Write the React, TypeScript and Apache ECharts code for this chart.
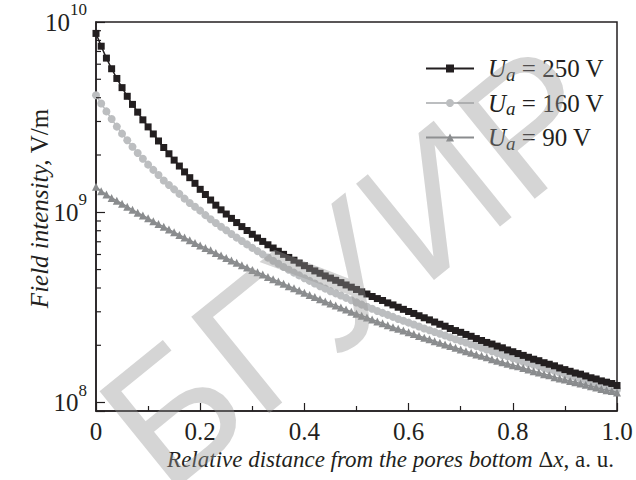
import React, { useEffect, useRef } from "react";
import * as echarts from "echarts";

// Relative distance Δx (a.u.) at which each marker is drawn
const X_POS = [
  0, 0.01, 0.02, 0.03, 0.04, 0.05, 0.06, 0.07, 0.08, 0.09,
  0.1, 0.11, 0.12, 0.13, 0.14, 0.15, 0.16, 0.17, 0.18, 0.19,
  0.2, 0.21, 0.22, 0.23, 0.24, 0.25, 0.26, 0.27, 0.28, 0.29,
  0.3, 0.31, 0.32, 0.33, 0.34, 0.35, 0.36, 0.37, 0.38, 0.39,
  0.4, 0.41, 0.42, 0.43, 0.44, 0.45, 0.46, 0.47, 0.48, 0.49,
  0.5, 0.51, 0.52, 0.53, 0.54, 0.55, 0.56, 0.57, 0.58, 0.59,
  0.6, 0.61, 0.62, 0.63, 0.64, 0.65, 0.66, 0.67, 0.68, 0.69,
  0.7, 0.71, 0.72, 0.73, 0.74, 0.75, 0.76, 0.77, 0.78, 0.79,
  0.8, 0.81, 0.82, 0.83, 0.84, 0.85, 0.86, 0.87, 0.88, 0.89,
  0.9, 0.91, 0.92, 0.93, 0.94, 0.95, 0.96, 0.97, 0.98, 0.99,
  1.0,
];

// Field intensity, V/m
const FIELD_250V = [
  8.71e9, 7.46e9, 6.46e9, 5.68e9, 5.05e9, 4.52e9, 4.07e9, 3.69e9, 3.36e9, 3.06e9,
  2.81e9, 2.58e9, 2.37e9, 2.19e9, 2.03e9, 1.88e9, 1.75e9, 1.63e9, 1.52e9, 1.42e9,
  1.32e9, 1.24e9, 1.16e9, 1.09e9, 1.03e9, 9.79e8, 9.29e8, 8.83e8, 8.41e8, 8.02e8,
  7.66e8, 7.33e8, 7.03e8, 6.75e8, 6.49e8, 6.24e8, 6.01e8, 5.79e8, 5.6e8, 5.41e8,
  5.24e8, 5.07e8, 4.92e8, 4.78e8, 4.63e8, 4.51e8, 4.39e8, 4.27e8, 4.15e8, 4.04e8,
  3.93e8, 3.82e8, 3.72e8, 3.61e8, 3.52e8, 3.44e8, 3.34e8, 3.26e8, 3.17e8, 3.09e8,
  3.01e8, 2.94e8, 2.86e8, 2.79e8, 2.72e8, 2.65e8, 2.58e8, 2.52e8, 2.45e8, 2.39e8,
  2.34e8, 2.28e8, 2.23e8, 2.17e8, 2.12e8, 2.07e8, 2.03e8, 1.98e8, 1.94e8, 1.89e8,
  1.85e8, 1.81e8, 1.77e8, 1.73e8, 1.69e8, 1.66e8, 1.62e8, 1.59e8, 1.56e8, 1.52e8,
  1.49e8, 1.46e8, 1.43e8, 1.41e8, 1.38e8, 1.35e8, 1.33e8, 1.3e8, 1.28e8, 1.26e8,
  1.23e8,
];

const FIELD_160V = [
  4.12e9, 3.73e9, 3.39e9, 3.09e9, 2.82e9, 2.59e9, 2.39e9, 2.21e9, 2.05e9, 1.91e9,
  1.78e9, 1.67e9, 1.57e9, 1.47e9, 1.39e9, 1.32e9, 1.25e9, 1.18e9, 1.12e9, 1.07e9,
  1.02e9, 9.66e8, 9.2e8, 8.79e8, 8.4e8, 8.04e8, 7.69e8, 7.36e8, 7.06e8, 6.78e8,
  6.5e8, 6.25e8, 6.01e8, 5.78e8, 5.56e8, 5.36e8, 5.16e8, 4.99e8, 4.82e8, 4.66e8,
  4.5e8, 4.36e8, 4.22e8, 4.09e8, 3.97e8, 3.85e8, 3.75e8, 3.65e8, 3.55e8, 3.45e8,
  3.36e8, 3.27e8, 3.19e8, 3.11e8, 3.03e8, 2.96e8, 2.89e8, 2.82e8, 2.75e8, 2.69e8,
  2.63e8, 2.57e8, 2.51e8, 2.45e8, 2.4e8, 2.35e8, 2.3e8, 2.25e8, 2.2e8, 2.15e8,
  2.11e8, 2.07e8, 2.02e8, 1.98e8, 1.94e8, 1.9e8, 1.86e8, 1.82e8, 1.78e8, 1.75e8,
  1.71e8, 1.68e8, 1.64e8, 1.61e8, 1.58e8, 1.55e8, 1.52e8, 1.49e8, 1.47e8, 1.44e8,
  1.41e8, 1.38e8, 1.36e8, 1.33e8, 1.31e8, 1.29e8, 1.26e8, 1.24e8, 1.22e8, 1.2e8,
  1.17e8,
];

const FIELD_90V = [
  1.36e9, 1.29e9, 1.24e9, 1.19e9, 1.15e9, 1.11e9, 1.07e9, 1.03e9, 9.95e8, 9.62e8,
  9.29e8, 8.97e8, 8.67e8, 8.4e8, 8.11e8, 7.85e8, 7.6e8, 7.36e8, 7.13e8, 6.9e8,
  6.7e8, 6.5e8, 6.31e8, 6.11e8, 5.93e8, 5.75e8, 5.58e8, 5.43e8, 5.27e8, 5.13e8,
  4.98e8, 4.84e8, 4.71e8, 4.57e8, 4.45e8, 4.33e8, 4.21e8, 4.09e8, 3.99e8, 3.88e8,
  3.78e8, 3.68e8, 3.59e8, 3.49e8, 3.4e8, 3.32e8, 3.24e8, 3.16e8, 3.08e8, 3.0e8,
  2.93e8, 2.86e8, 2.8e8, 2.73e8, 2.67e8, 2.61e8, 2.55e8, 2.49e8, 2.44e8, 2.39e8,
  2.34e8, 2.29e8, 2.24e8, 2.19e8, 2.15e8, 2.1e8, 2.06e8, 2.02e8, 1.98e8, 1.94e8,
  1.9e8, 1.86e8, 1.83e8, 1.79e8, 1.76e8, 1.73e8, 1.69e8, 1.66e8, 1.63e8, 1.6e8,
  1.57e8, 1.55e8, 1.52e8, 1.49e8, 1.46e8, 1.44e8, 1.41e8, 1.39e8, 1.36e8, 1.34e8,
  1.32e8, 1.3e8, 1.28e8, 1.26e8, 1.24e8, 1.22e8, 1.2e8, 1.18e8, 1.16e8, 1.15e8,
  1.13e8,
];

const SERIES_NAMES = ["Ua = 250 V", "Ua = 160 V", "Ua = 90 V"];
const LEGEND_VALUES = ["250 V", "160 V", "90 V"];
const X_TICK_LABELS = ["0", "0.2", "0.4", "0.6", "0.8", "1.0"];
const Y_MINOR_TICKS = [
  2e8, 3e8, 4e8, 5e8, 6e8, 7e8, 8e8, 9e8,
  2e9, 3e9, 4e9, 5e9, 6e9, 7e9, 8e9, 9e9,
];
const WATERMARK = "БГУИР";

const FONT = "Liberation Serif";
const INK = "#231f20";
const LIGHT = "#bcbec0";
const MID = "#8a8c8e";

export default function App() {
  const ref = useRef<HTMLDivElement>(null);

  useEffect(() => {
    if (!ref.current) return;
    const chart = echarts.init(ref.current, undefined, { renderer: "svg" });

    const toPairs = (ys: number[]) => X_POS.map((x, i) => [x, ys[i]]);

    const option: any = {
      animation: false,
      backgroundColor: "#ffffff",
      textStyle: { fontFamily: FONT },
      grid: {
        left: 96,
        top: 22,
        width: 521,
        height: 389,
        show: true,
        borderColor: INK,
        borderWidth: 1.5,
        backgroundColor: "transparent",
        outerBoundsMode: "none",
        containLabel: false,
      },
      legend: {
        show: true,
        orient: "vertical",
        left: 420,
        top: 51,
        itemWidth: 48,
        itemHeight: 10,
        itemGap: 7,
        selectedMode: false,
        data: SERIES_NAMES,
        formatter: (name: string) => {
          const i = SERIES_NAMES.indexOf(name);
          return `{u|U}{a|a}{t| = ${LEGEND_VALUES[i]}}`;
        },
        textStyle: {
          color: INK,
          fontFamily: FONT,
          fontSize: 25,
          padding: [0, 0, 0, 9],
          rich: {
            u: { fontFamily: FONT, fontStyle: "italic", fontSize: 25, lineHeight: 30, color: INK },
            a: { fontFamily: FONT, fontStyle: "italic", fontSize: 19, lineHeight: 12, verticalAlign: "bottom", color: INK },
            t: { fontFamily: FONT, fontSize: 25, lineHeight: 30, color: INK },
          },
        },
      },
      xAxis: {
        type: "value",
        min: 0,
        max: 1,
        interval: 0.2,
        axisLine: { show: true, onZero: false, lineStyle: { color: INK, width: 1.5 } },
        axisTick: { show: true, inside: true, length: 8, lineStyle: { color: INK, width: 1.2 } },
        minorTick: { show: true, splitNumber: 2, length: 5, lineStyle: { color: INK, width: 1.2 } },
        splitLine: { show: false },
        minorSplitLine: { show: false },
        axisLabel: {
          color: INK,
          fontFamily: FONT,
          fontSize: 25,
          margin: 8,
          formatter: (v: number) => X_TICK_LABELS[Math.round(v / 0.2)] ?? "",
        },
        name: "{i|Relative distance from the pores bottom }{r|Δ}{i|x}{r|, a. u.}",
        nameLocation: "middle",
        nameGap: 37,
        nameMoveOverlap: false,
        nameTextStyle: {
          color: INK,
          fontFamily: FONT,
          fontSize: 23,
          padding: [0, 0, 0, 68],
          rich: {
            i: { fontFamily: FONT, fontStyle: "italic", fontSize: 23, color: INK },
            r: { fontFamily: FONT, fontSize: 23, color: INK },
          },
        },
      },
      yAxis: {
        type: "log",
        logBase: 10,
        min: 9.03e7,
        max: 1e10,
        axisLine: { show: true, lineStyle: { color: INK, width: 1.5 } },
        axisTick: { show: true, inside: true, length: 9, lineStyle: { color: INK, width: 1.2 } },
        splitLine: { show: false },
        minorTick: { show: false },
        axisLabel: {
          color: INK,
          fontFamily: FONT,
          fontSize: 25,
          margin: 9,
          formatter: (v: number) => {
            const e = Math.log10(v);
            const r = Math.round(e);
            if (Math.abs(e - r) > 1e-6) return "";
            return `{b|10}{s|${r}}`;
          },
          rich: {
            b: { fontFamily: FONT, fontSize: 25, lineHeight: 42, verticalAlign: "middle", color: INK },
            s: { fontFamily: FONT, fontSize: 17, lineHeight: 18, verticalAlign: "top", color: INK },
          },
        },
        name: "{i|Field intensity, }{r|V/m}",
        nameLocation: "middle",
        nameGap: 44,
        nameRotate: 90,
        nameMoveOverlap: false,
        nameTextStyle: {
          color: INK,
          fontFamily: FONT,
          fontSize: 25,
          padding: [0, 0, 0, 16],
          rich: {
            i: { fontFamily: FONT, fontStyle: "italic", fontSize: 25, color: INK },
            r: { fontFamily: FONT, fontSize: 25, color: INK },
          },
        },
      },
      series: [
        {
          name: SERIES_NAMES[0],
          type: "line",
          data: toPairs(FIELD_250V),
          symbol: "rect",
          symbolSize: 7,
          showSymbol: true,
          showAllSymbol: true,
          lineStyle: { color: INK, width: 1.5 },
          itemStyle: { color: INK },
          z: 5,
        },
        {
          name: SERIES_NAMES[1],
          type: "line",
          data: toPairs(FIELD_160V),
          symbol: "circle",
          symbolSize: 8,
          showSymbol: true,
          showAllSymbol: true,
          lineStyle: { color: LIGHT, width: 1.5 },
          itemStyle: { color: LIGHT },
          z: 3,
        },
        {
          name: SERIES_NAMES[2],
          type: "line",
          data: toPairs(FIELD_90V),
          symbol: "triangle",
          symbolSize: 8,
          showSymbol: true,
          showAllSymbol: true,
          lineStyle: { color: MID, width: 1.5 },
          itemStyle: { color: MID },
          z: 4,
        },
        {
          type: "custom",
          name: "minor-y-ticks",
          coordinateSystem: "cartesian2d",
          silent: true,
          clip: false,
          z: 6,
          data: Y_MINOR_TICKS.map((v) => [0, v]),
          renderItem: (_params: any, api: any) => {
            const p = api.coord([api.value(0), api.value(1)]);
            return {
              type: "line",
              shape: { x1: p[0], y1: p[1], x2: p[0] + 5, y2: p[1] },
              style: { stroke: INK, lineWidth: 1.2 },
            };
          },
        },
      ],
      graphic: [
        {
          type: "text",
          x: 352,
          y: 266,
          rotation: 0.68,
          z: 100,
          silent: true,
          style: {
            text: WATERMARK,
            fontSize: 180,
            fontFamily: "Liberation Sans",
            fill: "rgba(150,150,150,0.4)",
            align: "center",
            verticalAlign: "middle",
            textAlign: "center",
            textVerticalAlign: "middle",
          },
        },
      ],
    };

    chart.setOption(option);
    return () => chart.dispose();
  }, []);

  return (
    <div
      ref={ref}
      style={{ position: "absolute", left: 0, top: 0, width: 636, height: 480 }}
    />
  );
}
